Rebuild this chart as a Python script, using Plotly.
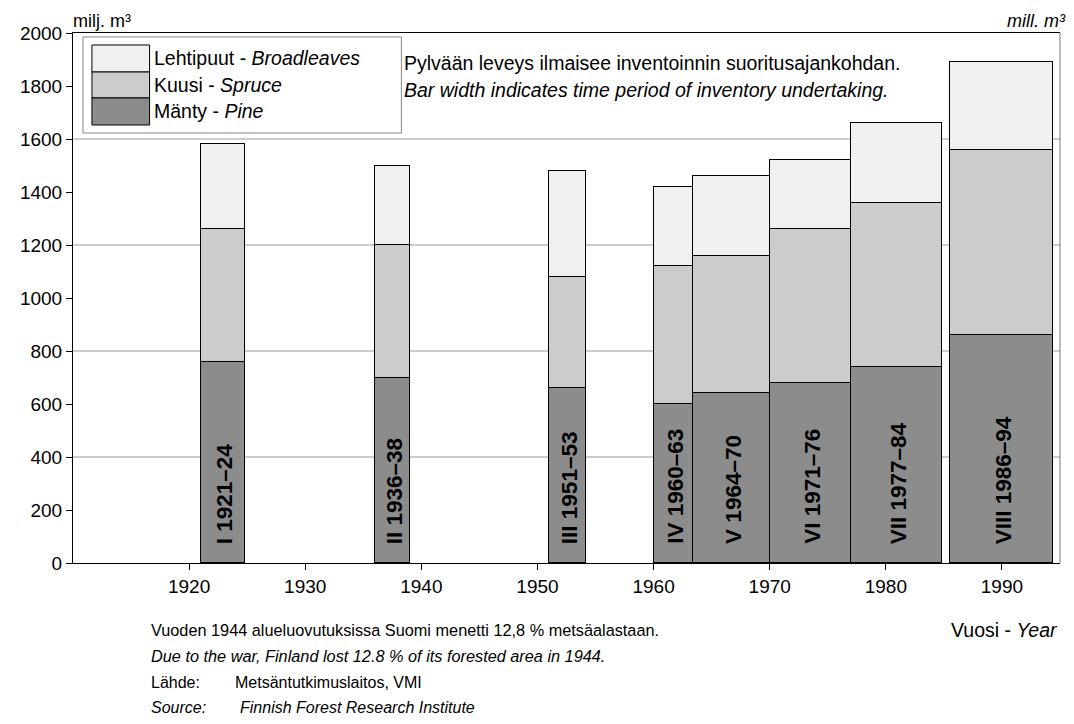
import plotly.graph_objects as go

# inventory periods (start/end year of each bar) and volumes, mill. m3
inventories = ["I 1921–24", "II 1936–38", "III 1951–53", "IV 1960–63",
               "V 1964–70", "VI 1971–76", "VII 1977–84", "VIII 1986–94"]
period_start = [1921, 1936, 1951, 1960, 1963.4, 1970, 1977, 1985.5]
period_end = [1924.8, 1939, 1954.2, 1963.4, 1970, 1977, 1984.8, 1994.4]
pine = [760, 700, 660, 600, 640, 680, 740, 860]
spruce = [500, 500, 420, 520, 520, 580, 620, 700]
broadleaves = [320, 300, 400, 300, 300, 260, 300, 330]

y_ticks = [0, 200, 400, 600, 800, 1000, 1200, 1400, 1600, 1800, 2000]
x_ticks = [1920, 1930, 1940, 1950, 1960, 1970, 1980, 1990]
grid_values = [400, 800, 1200, 1600]

FONT = "Liberation Sans, Arial"
centers = [(a + b) / 2 for a, b in zip(period_start, period_end)]
widths = [b - a for a, b in zip(period_start, period_end)]

fig = go.Figure()
for name, vals, color in [("Mänty - Pine", pine, "#8c8c8c"),
                          ("Kuusi - Spruce", spruce, "#cccccc"),
                          ("Lehtipuut - Broadleaves", broadleaves, "#f0f0f0")]:
    fig.add_trace(go.Bar(
        x=centers, y=vals, width=widths, name=name,
        marker=dict(color=color, line=dict(color="black", width=1)),
        showlegend=False
    ))

# gridlines every 400 only
for g in grid_values:
    fig.add_shape(type="line", xref="paper", x0=0, x1=1, y0=g, y1=g,
                  line=dict(color="#999999", width=1.2), layer="below")
# right frame
fig.add_shape(type="line", xref="paper", yref="paper", x0=1, x1=1, y0=0, y1=1,
              line=dict(color="#777777", width=1))

# legend box drawn by hand
fig.add_shape(type="rect", xref="paper", yref="paper", x0=0.0101, x1=0.3327,
              y0=0.8113, y1=0.9925, fillcolor="white",
              line=dict(color="#888888", width=1))
swatches = [("#f0f0f0", 0.9264, 0.9774), ("#cccccc", 0.8774, 0.9264), ("#8c8c8c", 0.8264, 0.8774)]
for col, y0, y1 in swatches:
    fig.add_shape(type="rect", xref="paper", yref="paper", x0=0.0192, x1=0.0776,
                  y0=y0, y1=y1, fillcolor=col, line=dict(color="black", width=1))

def note(text, x, y, xanchor="left", size=19.5, yanchor="middle"):
    fig.add_annotation(text=text, xref="paper", yref="paper", x=x, y=y,
                       xanchor=xanchor, yanchor=yanchor, showarrow=False,
                       xshift=-6 if xanchor == "left" else 0,
                       font=dict(family=FONT, size=size, color="black"))

note("Lehtipuut - <i>Broadleaves</i>", 0.0857, 0.9528)
note("Kuusi - <i>Spruce</i>", 0.0857, 0.9019)
note("Mänty - <i>Pine</i>", 0.0857, 0.8528)
note("Pylvään leveys ilmaisee inventoinnin suoritusajankohdan.", 0.3397, 0.9434)
note("<i>Bar width indicates time period of inventory undertaking.</i>", 0.3397, 0.8925)
note("milj. m³", 0.004, 1.0, size=18, yanchor="bottom")
note("<i>mill. m³</i>", 1.008, 1.0, xanchor="right", size=18, yanchor="bottom")
note("Vuoden 1944 alueluovutuksissa Suomi menetti 12,8 % metsäalastaan.", 0.0827, -0.1264, size=16.3)
note("<i>Due to the war, Finland lost 12.8 % of its forested area in 1944.</i>", 0.0827, -0.1755, size=16.3)
note("Lähde:", 0.0827, -0.2264, size=16)
note("Metsäntutkimuslaitos, VMI", 0.1683, -0.2264, size=16)
note("<i>Source:</i>", 0.0827, -0.2717, size=16)
note("<i>Finnish Forest Research Institute</i>", 0.1734, -0.2717, size=16)
note("Vuosi - <i>Year</i>", 1.0, -0.1264, xanchor="right", size=19.5)

# period labels inside pine segments
for cx, lab in zip(centers, inventories):
    fig.add_annotation(text="<b>%s</b>" % lab, x=cx, y=0, xanchor="center",
                       yanchor="bottom", yshift=17, xshift=2, textangle=-90,
                       showarrow=False,
                       font=dict(family=FONT, size=22.5, color="black"))

# page body adds an 8px offset, so the figure is 8px smaller than the window
fig.update_layout(
    width=1066, height=716,
    margin=dict(l=60, r=14, t=25, b=161),
    barmode="stack", bargap=0,
    plot_bgcolor="white", paper_bgcolor="white",
    font=dict(family=FONT, size=18, color="black"),
    xaxis=dict(range=[1910, 1995], tickvals=x_ticks, showgrid=False,
               showline=True, mirror=True, linecolor="black", linewidth=1,
               ticks="outside", ticklen=6, tickcolor="black",
               tickfont=dict(family=FONT, size=19), zeroline=False),
    yaxis=dict(range=[0, 2000], tickvals=y_ticks, showgrid=False,
               showline=True, linecolor="black", linewidth=1,
               ticks="outside", ticklen=6, tickcolor="black",
               tickfont=dict(family=FONT, size=19), zeroline=False),
)

fig.write_html("out.html")
